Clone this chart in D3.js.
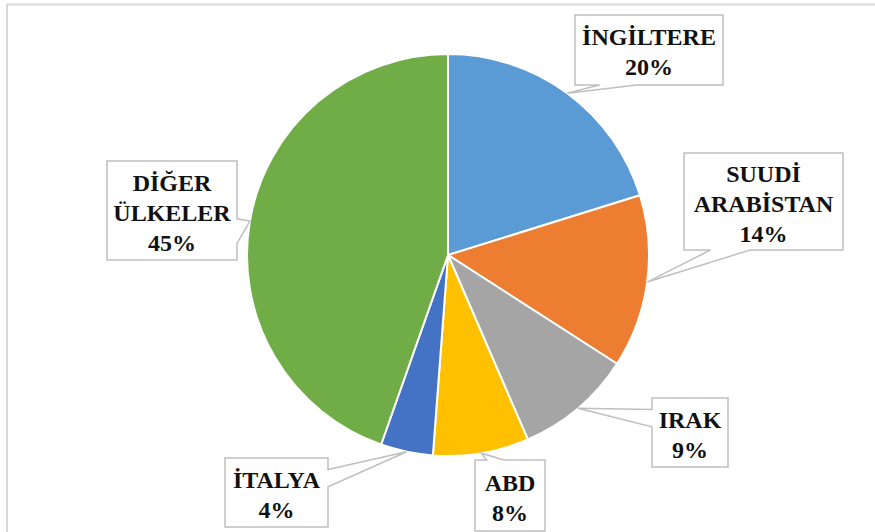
<!DOCTYPE html>
<html>
<head>
<meta charset="utf-8">
<script src="https://cdn.jsdelivr.net/npm/d3@7/dist/d3.min.js"></script>
<style>
  html, body { margin: 0; padding: 0; background: #fff; }
  svg { display: block; }
  .lbl { font-family: 'Liberation Serif', 'Times New Roman', serif; font-weight: bold; font-size: 24px; fill: #111; }
</style>
</head>
<body>
<div id="chart"></div>
<script>
// countries (label lines) and their shares
const countries = [['İNGİLTERE'], ['SUUDİ', 'ARABİSTAN'], ['IRAK'], ['ABD'], ['İTALYA'], ['DİĞER', 'ÜLKELER']];
const shares = [20.2, 13.9, 9.4, 7.7, 4.2, 44.6];
const colors = ['#5b9bd5', '#ed7d31', '#a5a5a5', '#ffc000', '#4472c4', '#70ad47'];

// callout boxes: [x, y, w, h]
const boxes = [
  [575, 15, 148, 70],
  [684, 153, 159, 97],
  [652, 398, 76, 69],
  [475, 460, 70, 71],
  [225, 458, 103, 69],
  [107, 161, 130, 99]
];

const width = 875;
const height = 532;
const cx = 448;
const cy = 255;
const radius = 201;

const svg = d3.select('#chart')
  .append('svg')
  .attr('width', width)
  .attr('height', height);

// chart area border (runs off the right and bottom edges)
svg.append('rect')
  .attr('x', 7)
  .attr('y', 4.5)
  .attr('width', width + 20)
  .attr('height', height + 20)
  .attr('fill', 'none')
  .attr('stroke', '#d9d9d9')
  .attr('stroke-width', 2);

const pie = d3.pie().sort(null).value((d) => d);
const arcs = pie(shares);
const total = d3.sum(shares);

const arc = d3.arc().innerRadius(0).outerRadius(radius);
const edge = d3.arc().innerRadius(radius).outerRadius(radius);

const g = svg.append('g').attr('transform', 'translate(' + cx + ',' + cy + ')');

g.selectAll('path.slice')
  .data(arcs)
  .enter()
  .append('path')
  .attr('class', 'slice')
  .attr('d', arc)
  .attr('fill', (d, i) => colors[i])
  .attr('stroke', '#fff')
  .attr('stroke-width', 2);

// office style wedge callout: rectangle with a tail pointing at (tx, ty)
function callout(b, tx, ty) {
  const [x, y, w, h] = b;
  const mx = x + w / 2, my = y + h / 2;
  const dx = (tx - mx) / w, dy = (ty - my) / h;
  const p = [];
  if (Math.abs(dy) >= Math.abs(dx)) {
    const a = tx < mx ? [w / 6, w * 5 / 12] : [w * 7 / 12, w * 5 / 6];
    if (dy < 0) {
      p.push([x, y], [x + a[0], y], [tx, ty], [x + a[1], y], [x + w, y], [x + w, y + h], [x, y + h]);
    } else {
      p.push([x, y], [x + w, y], [x + w, y + h], [x + a[1], y + h], [tx, ty], [x + a[0], y + h], [x, y + h]);
    }
  } else {
    const a = ty < my ? [h / 6, h * 5 / 12] : [h * 7 / 12, h * 5 / 6];
    if (dx < 0) {
      p.push([x, y], [x + w, y], [x + w, y + h], [x, y + h], [x, y + a[1]], [tx, ty], [x, y + a[0]]);
    } else {
      p.push([x, y], [x + w, y], [x + w, y + a[0]], [tx, ty], [x + w, y + a[1]], [x + w, y + h], [x, y + h]);
    }
  }
  return 'M' + p.map((q) => q.join(',')).join('L') + 'Z';
}

const labels = svg.append('g');

arcs.forEach((d, i) => {
  const t = edge.centroid(d);
  const b = boxes[i];
  labels.append('path')
    .attr('d', callout(b, cx + t[0], cy + t[1]))
    .attr('fill', '#fff')
    .attr('stroke', '#bfbfbf')
    .attr('stroke-width', 1.5);

  const lines = countries[i].concat([Math.round(d.value / total * 100) + '%']);
  const n = lines.length;
  const midY = b[1] + b[3] / 2;
  labels.append('g').selectAll('text')
    .data(lines)
    .enter()
    .append('text')
    .attr('class', 'lbl')
    .attr('text-anchor', 'middle')
    .attr('x', b[0] + b[2] / 2)
    .attr('y', (s, j) => midY + (j - (n - 1) / 2) * 30 + 10)
    .text((s) => s);
});
</script>
</body>
</html>
